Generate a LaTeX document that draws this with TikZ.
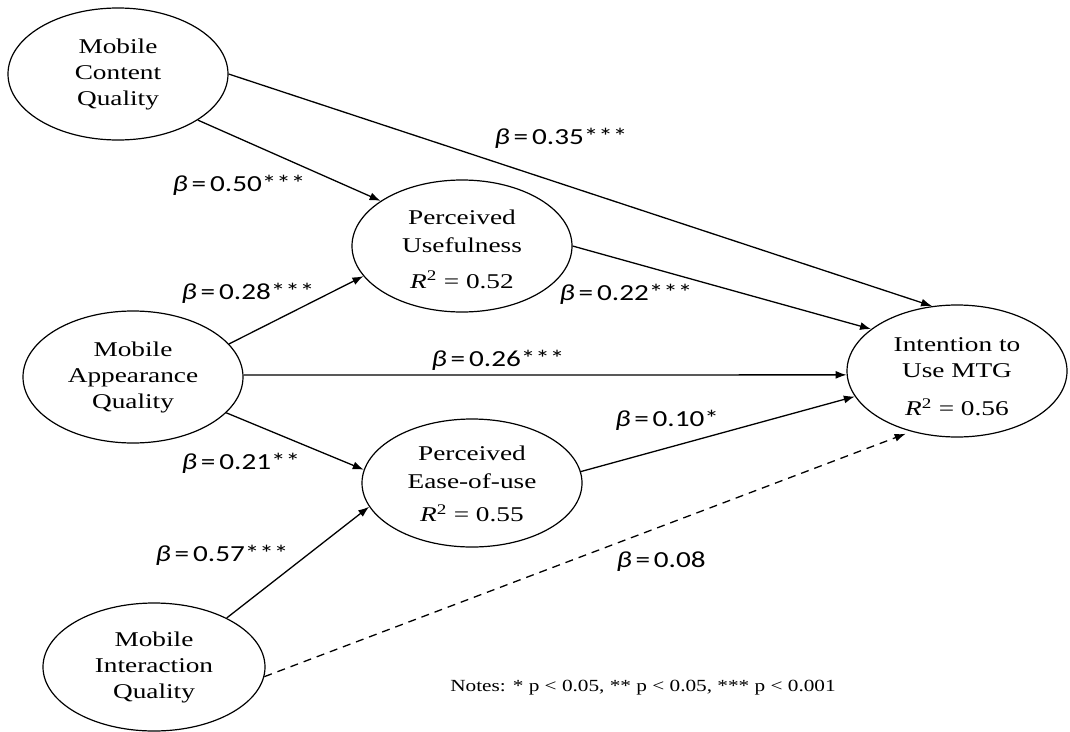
\documentclass[tikz,border=0pt]{standalone}
\usepackage{fontspec}
\setmainfont{Liberation Serif}
\newfontfamily\nodefont[FakeStretch=1.3]{Liberation Serif}
\newfontfamily\coeffont[FakeStretch=1.27]{Carlito}
\newfontfamily\notefont[FakeStretch=1.25]{Liberation Serif}
\usetikzlibrary{shapes.geometric,arrows.meta}
\newcommand{\betalab}[1]{{\itshape β}\,=\,#1}
\newcommand{\rsq}[1]{\textit{R}\textsuperscript{2} = #1}
\tikzset{
  construct/.style={draw, line width=1.2pt, ellipse, inner sep=0pt,
    minimum width=220pt, minimum height=132pt, align=center,
    font=\nodefont\fontsize{21}{26}\selectfont},
  pathline/.style={line width=1.3pt, -{Latex[length=11pt,width=8pt]}},
  nspath/.style={pathline, dash pattern=on 8pt off 6pt},
  coef/.style={font=\coeffont\fontsize{23}{26}\selectfont, inner sep=0pt},
  notes/.style={font=\notefont\fontsize{17}{20}\selectfont, inner sep=0pt}
}
\begin{document}
\begin{tikzpicture}[x=1pt,y=-1pt]
\useasboundingbox (0,0) rectangle (1070,731);
\node[construct] (mcq) at (118,74) {Mobile\\Content\\Quality};
\node[construct] (pu) at (462,246) {\rule{0pt}{21pt}Perceived\\[2pt]Usefulness\\[10pt]\rsq{0.52}};
\node[construct] (maq) at (133,377) {Mobile\\Appearance\\Quality};
\node[construct] (itu) at (957,371) {\rule{0pt}{26pt}Intention to\\Use MTG\\[12pt]\rsq{0.56}};
\node[construct, minimum height=128pt] (peu) at (472,483) {\rule{0pt}{17pt}Perceived\\[2pt]Ease-of-use\\[7pt]\rsq{0.55}};
\node[construct, minimum width=222pt, minimum height=128pt] (miq) at (154,667) {Mobile\\Interaction\\Quality};

\draw[pathline] (mcq.0) -- (itu.111);
\draw[pathline] (mcq.-30) -- (pu.151);
\draw[pathline] (pu.0) -- (itu.154);
\draw[pathline] (maq.19) -- (pu.-163);
\draw[pathline] (maq.1) -- (itu.-178);
\draw[pathline] (maq.-21) -- (peu.173);
\draw[pathline] (miq.34) -- (peu.-167);
\draw[pathline] (peu.6) -- (itu.-166);
\draw[nspath, shorten >=6pt] (miq.-5) -- (itu.-127);

\node[coef] (l1) at (239,185) {\betalab{0.50***}};
\node[coef] (l2) at (561,138) {\betalab{0.35***}};
\node[coef] (l3) at (248,293) {\betalab{0.28***}};
\node[coef] (l4) at (626,294) {\betalab{0.22***}};
\node[coef] (l5) at (498,360) {\betalab{0.26***}};
\node[coef] (l6) at (241,463) {\betalab{0.21**}};
\node[coef] (l7) at (667,420) {\betalab{0.10*}};
\node[coef] (l8) at (222,555) {\betalab{0.57***}};
\node[coef] (l9) at (661,562) {\betalab{0.08}};
\node[notes] (nt) at (643,688) {Notes: * p < 0.05, ** p < 0.05, *** p < 0.001};
\end{tikzpicture}
\end{document}
